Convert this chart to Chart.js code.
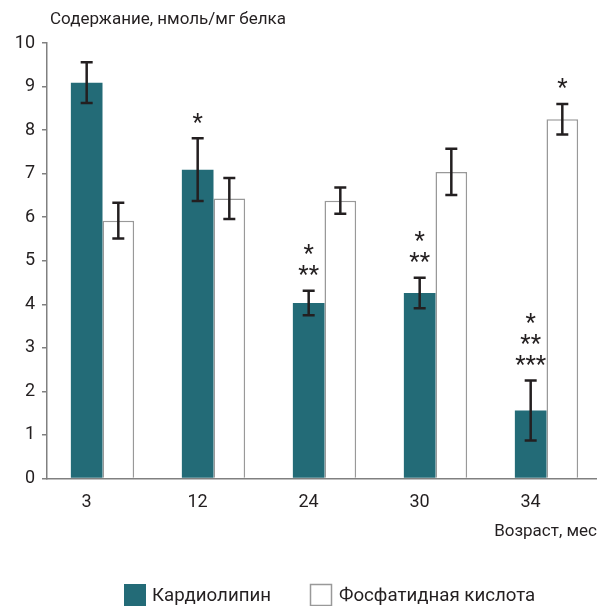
<!DOCTYPE html>
<html>
<head>
<meta charset="utf-8">
<script src="https://cdn.jsdelivr.net/npm/chart.js@4"></script>
<style>
  html, body { margin: 0; padding: 0; background: #fff; overflow: hidden; }
  #wrap { width: 602px; height: 606px; }
</style>
</head>
<body>
<div id="wrap"><canvas id="lipidChart"></canvas></div>
<script>
// Возраст, мес
const ages = ['3', '12', '24', '30', '34'];

// Кардиолипин: среднее и ошибка
const cardiolipin = [9.09, 7.09, 4.03, 4.26, 1.56];
const cardiolipinErr = [0.47, 0.72, 0.28, 0.35, 0.69];

// Фосфатидная кислота: среднее и ошибка
const phosphatidicAcid = [5.92, 6.43, 6.38, 7.04, 8.25];
const phosphatidicAcidErr = [0.41, 0.47, 0.30, 0.53, 0.35];

// значимость различий, строки сверху вниз
const cardiolipinMarks = [[], ['*'], ['*', '**'], ['*', '**'], ['*', '**', '***']];
const phosphatidicAcidMarks = [[], [], [], [], ['*']];

const yMin = 0, yMax = 10, yStep = 1;

const TEAL = '#236b77';
const INK = '#231f20';
const AXIS = '#808080';
const FONT = 'Roboto, "Liberation Sans", sans-serif';

const errors = [cardiolipinErr, phosphatidicAcidErr];
const marks = [cardiolipinMarks, phosphatidicAcidMarks];

// error bars + asterisks
const errorBarPlugin = {
  id: 'errorBars',
  afterDatasetsDraw(chart) {
    const ctx = chart.ctx;
    const y = chart.scales.y;
    ctx.save();
    chart.data.datasets.forEach((ds, i) => {
      const meta = chart.getDatasetMeta(i);
      meta.data.forEach((bar, j) => {
        const v = ds.data[j], e = errors[i][j];
        const top = y.getPixelForValue(v + e);
        const bottom = y.getPixelForValue(v - e);
        ctx.strokeStyle = INK;
        ctx.lineWidth = 2.5;
        ctx.beginPath();
        ctx.moveTo(bar.x, top); ctx.lineTo(bar.x, bottom);
        ctx.moveTo(bar.x - 6, top); ctx.lineTo(bar.x + 6, top);
        ctx.moveTo(bar.x - 6, bottom); ctx.lineTo(bar.x + 6, bottom);
        ctx.stroke();

        const lines = marks[i][j];
        ctx.fillStyle = INK;
        ctx.font = '24px ' + FONT;
        ctx.textAlign = 'center';
        ctx.textBaseline = 'alphabetic';
        lines.forEach((s, k) => {
          const center = top - 21 - (lines.length - 1 - k) * 21;
          ctx.fillText(s, bar.x, center + 12.5);
        });
      });
    });
    ctx.restore();
  }
};

// axis captions and legend
const captionPlugin = {
  id: 'captions',
  afterDraw(chart) {
    const ctx = chart.ctx;
    ctx.save();
    ctx.fillStyle = INK;
    ctx.font = '17px ' + FONT;
    ctx.textBaseline = 'middle';
    ctx.textAlign = 'left';
    ctx.fillText('Содержание, нмоль/мг белка', 50, 20);
    ctx.textAlign = 'right';
    ctx.fillText('Возраст, мес', 597, 532);

    ctx.font = '18.7px ' + FONT;
    ctx.textAlign = 'left';
    ctx.fillStyle = TEAL;
    ctx.fillRect(124, 584, 22, 22);
    ctx.fillStyle = INK;
    ctx.fillText(chart.data.datasets[0].label, 152, 596);
    ctx.fillStyle = '#fff';
    ctx.strokeStyle = '#999';
    ctx.lineWidth = 1.5;
    ctx.fillRect(310.5, 584.5, 21, 21);
    ctx.strokeRect(310.5, 584.5, 21, 21);
    ctx.fillStyle = INK;
    ctx.fillText(chart.data.datasets[1].label, 339, 596);
    ctx.restore();
  }
};

new Chart(document.getElementById('lipidChart'), {
  type: 'bar',
  data: {
    labels: ages,
    datasets: [
      {
        label: 'Кардиолипин',
        data: cardiolipin,
        backgroundColor: TEAL,
        borderColor: TEAL,
        borderWidth: 0
      },
      {
        label: 'Фосфатидная кислота',
        data: phosphatidicAcid,
        backgroundColor: '#fff',
        borderColor: '#999',
        borderWidth: 1.5
      }
    ]
  },
  options: {
    responsive: true,
    maintainAspectRatio: false,
    animation: false,
    datasets: { bar: { categoryPercentage: 0.57, barPercentage: 1 } },
    layout: { padding: { top: 43, bottom: 57.5, left: 0, right: 0 } },
    plugins: { legend: { display: false }, tooltip: { enabled: false } },
    scales: {
      x: {
        offset: true,
        grid: { display: false, drawTicks: false },
        border: { color: AXIS, width: 1.5 },
        ticks: { labelOffset: -16, padding: 13, color: INK, font: { family: FONT, size: 18 } },
        afterFit: s => { s.height = 70; }
      },
      y: {
        min: yMin,
        max: yMax,
        ticks: { stepSize: yStep, padding: 7, color: INK, font: { family: FONT, size: 18 } },
        grid: { drawOnChartArea: false, tickLength: 5, color: AXIS, lineWidth: 1.5 },
        border: { color: AXIS, width: 1.5 },
        afterFit: s => { s.width = 47; }
      }
    }
  },
  plugins: [errorBarPlugin, captionPlugin]
});
</script>
</body>
</html>
